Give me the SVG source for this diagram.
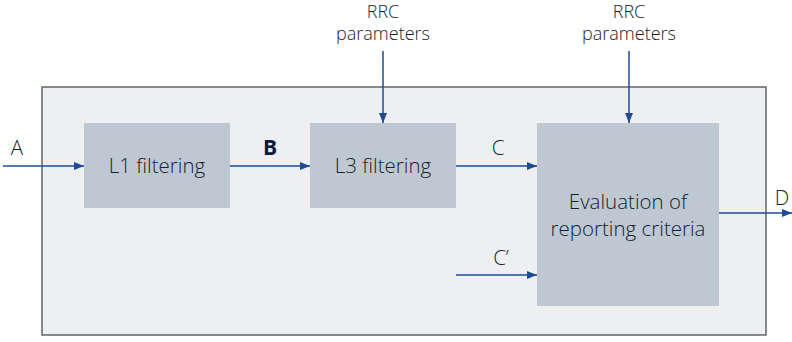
<svg xmlns="http://www.w3.org/2000/svg" width="792" height="342" viewBox="0 0 792 342">
<defs>
<marker id="ah" markerWidth="10" markerHeight="8" refX="10" refY="4" orient="auto" markerUnits="userSpaceOnUse">
<path d="M0,0 L10,4 L0,8 Z" fill="#1f4a94"/>
</marker>
<style>
.frame{fill:#eeeff1;stroke:#5f646b;stroke-width:1.5}
.box{fill:#bec8d3}
.lbl{font-family:"Open Sans","Noto Sans",sans-serif;font-weight:350;font-size:20.5px;fill:#1a1d2b}
.small{font-family:"Open Sans","Noto Sans",sans-serif;font-weight:350;font-size:18px;fill:#1a1d2b}
.bold{font-family:"Open Sans","Noto Sans",sans-serif;font-weight:700;font-size:21px;fill:#0c1a3d}
.conn{stroke:#1f4a94;stroke-width:1.5;fill:none;marker-end:url(#ah)}
</style>
</defs>
<rect width="792" height="342" fill="#ffffff"/>
<rect id="frame" class="frame" x="42" y="87" width="724" height="248"/>
<g id="l1">
<rect class="box" x="84" y="123" width="146" height="85"/>
<text class="lbl" x="157" y="173" text-anchor="middle">L1 filtering</text>
</g>
<g id="l3">
<rect class="box" x="310" y="123" width="146" height="85"/>
<text class="lbl" x="383" y="173" text-anchor="middle">L3 filtering</text>
</g>
<g id="eval">
<rect class="box" x="537" y="123" width="182" height="183"/>
<text class="lbl" text-anchor="middle"><tspan x="628" y="209">Evaluation of</tspan><tspan x="628" y="236">reporting criteria</tspan></text>
</g>
<g id="rrc1">
<text class="small" text-anchor="middle"><tspan x="383" y="18">RRC</tspan><tspan x="383" y="40">parameters</tspan></text>
</g>
<g id="rrc2">
<text class="small" text-anchor="middle"><tspan x="629" y="18">RRC</tspan><tspan x="629" y="40">parameters</tspan></text>
</g>
<g id="labels">
<text class="lbl" x="17" y="155" text-anchor="middle">A</text>
<text class="bold" x="270" y="155" text-anchor="middle">B</text>
<text class="lbl" x="498" y="155" text-anchor="middle">C</text>
<text class="lbl" x="501" y="265" text-anchor="middle">C’</text>
<text class="lbl" x="782" y="205" text-anchor="middle">D</text>
</g>
<g id="connectors">
<line class="conn" x1="3" y1="166" x2="84" y2="166"/>
<line class="conn" x1="230" y1="166" x2="310" y2="166"/>
<line class="conn" x1="456" y1="166" x2="537" y2="166"/>
<line class="conn" x1="456" y1="275" x2="537" y2="275"/>
<line class="conn" x1="719" y1="213" x2="792" y2="213"/>
<line class="conn" x1="383" y1="51" x2="383" y2="123"/>
<line class="conn" x1="629" y1="51" x2="629" y2="123"/>
</g>
</svg>
